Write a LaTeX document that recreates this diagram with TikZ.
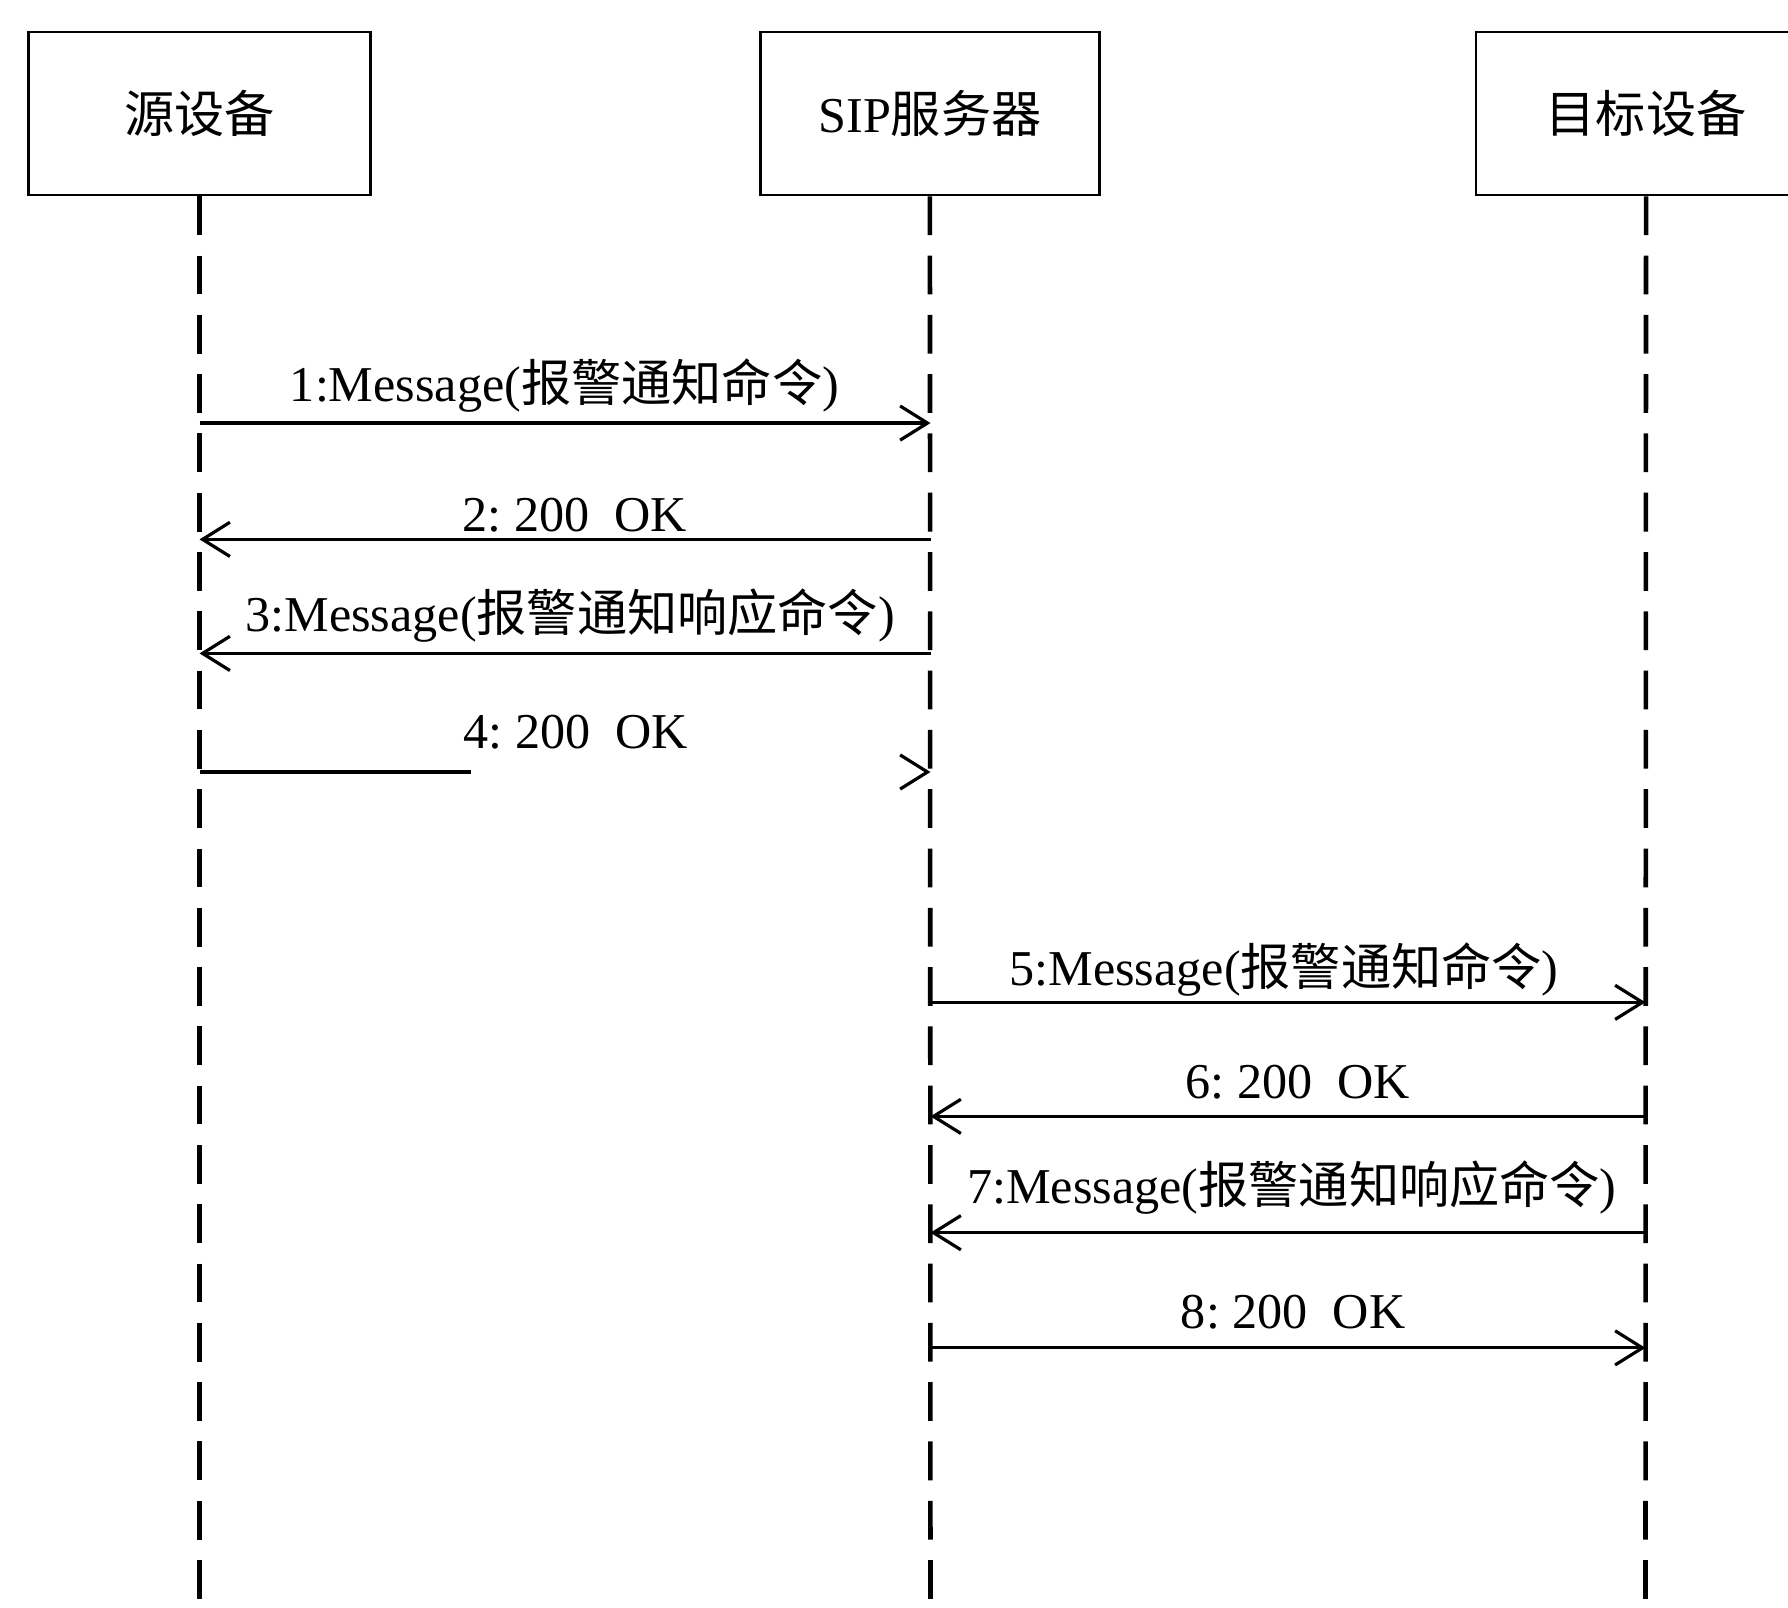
\documentclass[tikz,border=0pt]{standalone}
\usepackage{fontspec}
\setmainfont{Liberation Serif}
\newfontfamily\cjk{Noto Sans CJK SC}
\usetikzlibrary{arrows.meta,calc}
\begin{document}
\begin{tikzpicture}[x=0.5pt,y=-0.5pt,
  actor/.style={draw,line width=1.1pt,minimum width=150pt,minimum height=71.5pt,inner sep=0pt,font=\fontsize{22}{26}\selectfont},
  life/.style={line width=2pt,dash pattern=on 17pt off 9pt},
  msg/.style={line width=1.4pt,-{Straight Barb[length=12pt,width=15pt,line width=1.4pt]}},
  plain/.style={line width=1.4pt},
  lbl/.style={font=\fontsize{22}{26}\selectfont,inner sep=0pt,anchor=base}]
\clip (0,0) rectangle (1568,1410);
% actors
\node[actor] (src) at (175,99.5) {{\cjk 源设备}};
\node[actor,minimum width=148.5pt] (sip) at (815.5,99.5) {SIP{\cjk 服务器}};
\node[actor,minimum width=149pt] (dst) at (1443.5,99.5) {{\cjk 目标设备}};
% lifeline ends
\coordinate (srcEnd) at (175,1412);
\coordinate (sipEnd) at (816,1412);
\coordinate (dstEnd) at (1443,1412);
\draw[life] (src.south) -- (srcEnd);
\draw[life] (sip.south) -- (sipEnd);
\draw[life] (dst.south) -- (dstEnd);
% message points
\foreach \n/\y in {1/371,2/473,3/573,4/677,5/879,6/979,7/1081,8/1182}{
  \coordinate (a\n) at (175,\y);
  \coordinate (b\n) at (816,\y);
  \coordinate (c\n) at (1443,\y);
}
\coordinate (brk4) at (413,677);
\coordinate (pre4) at (812,677);
% messages
\draw[msg] (a1) -- (b1);
\draw[msg] (b2) -- (a2);
\draw[msg] (b3) -- (a3);
\draw[plain] (a4) -- (brk4);
\draw[msg] (pre4) -- (b4);
\draw[msg] (b5) -- (c5);
\draw[msg] (c6) -- (b6);
\draw[msg] (c7) -- (b7);
\draw[msg] (b8) -- (c8);
% labels
\node[lbl] (l1) at (495,352) {1:Message({\cjk 报警通知命令})};
\node[lbl] (l2) at (504,466) {2:\ 200\ \ OK};
\node[lbl] (l3) at (500,554) {3:Message({\cjk 报警通知响应命令})};
\node[lbl] (l4) at (505,656) {4:\ 200\ \ OK};
\node[lbl] (l5) at (1126,864) {5:Message({\cjk 报警通知命令})};
\node[lbl] (l6) at (1138,963) {6:\ 200\ \ OK};
\node[lbl] (l7) at (1133,1055) {7:Message({\cjk 报警通知响应命令})};
\node[lbl] (l8) at (1134,1165) {8:\ 200\ \ OK};
\end{tikzpicture}
\end{document}
